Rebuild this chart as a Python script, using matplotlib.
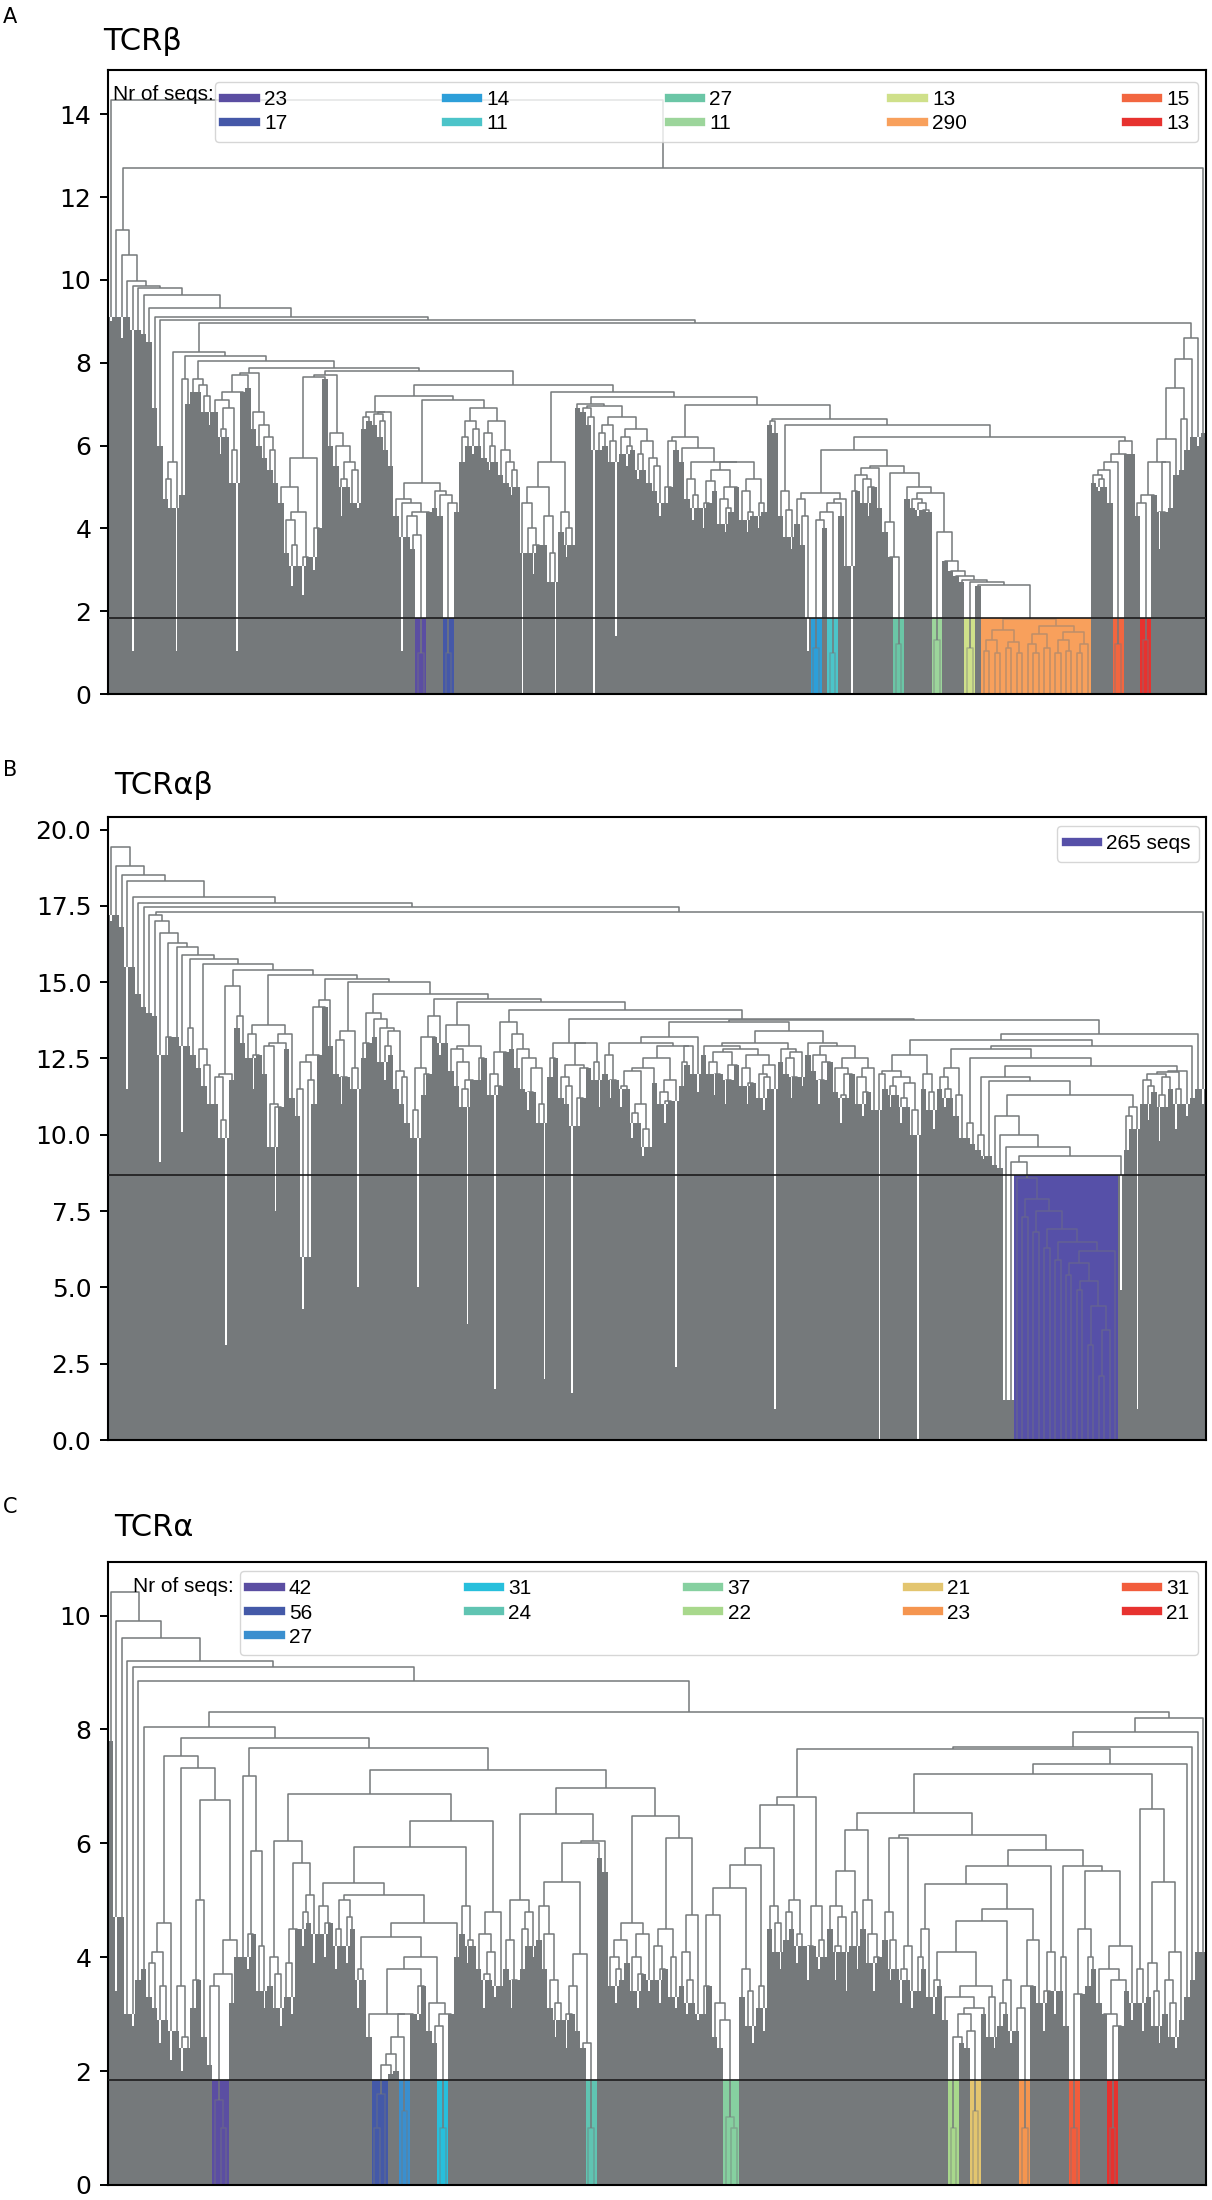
import numpy as np
import matplotlib
matplotlib.use("Agg")
import matplotlib.pyplot as plt
from matplotlib.collections import LineCollection
from matplotlib.lines import Line2D
from matplotlib.ticker import MultipleLocator
from matplotlib.colors import to_rgb

GRAY = '#75797b'

# ---------------- panel A : TCRb ----------------
# fill = height of the dense gray part of each leaf group, gaps = merge height
# between neighbouring leaf groups (dendrogram order)
fill_A = [9.0, 9.1, 8.6, 9.1, 1.04, 8.8, 8.7, 8.5, 6.9, 6.0,
          4.7, 4.5, 1.04, 4.8, 7.0, 7.3, 7.3, 6.8, 6.5, 6.8,
          5.8, 6.2, 5.1, 1.04, 7.6, 7.4, 6.4, 6.0, 5.7, 5.4,
          5.1, 4.6, 3.4, 2.6, 3.1, 2.4, 3.6, 3.0, 4.2, 7.6,
          6.0, 5.5, 4.3, 5.0, 4.6, 4.5, 6.4, 6.6, 6.5, 6.2,
          5.9, 5.5, 4.3, 1.04, 3.8, 3.5, 1.84, 1.84, 4.7, 4.5,
          4.3, 1.84, 1.84, 4.4, 5.6, 6.0, 5.8, 6.0, 5.7, 5.4,
          5.6, 5.3, 5.1, 4.8, 5.0, 0.0, 3.4, 2.9, 4.3, 3.6,
          2.7, 0.0, 3.9, 3.3, 3.6, 6.9, 6.8, 6.5, 0.0, 5.9,
          6.0, 5.6, 1.4, 5.8, 5.5, 5.9, 5.2, 5.4, 5.1, 4.9,
          4.3, 4.6, 6.0, 5.9, 5.6, 4.7, 4.2, 4.5, 4.0, 4.6,
          4.9, 4.1, 3.9, 4.4, 5.1, 4.2, 3.9, 4.3, 4.0, 4.4,
          6.5, 6.3, 4.3, 3.8, 3.5, 4.1, 3.6, 1.04, 1.84, 1.84,
          4.0, 1.84, 1.84, 4.3, 3.1, 0.0, 5.1, 4.6, 4.3, 5.4,
          4.5, 3.9, 3.5, 1.84, 1.84, 4.7, 4.5, 4.3, 4.6, 4.4,
          1.84, 1.84, 3.5, 3.1, 2.9, 2.7, 1.84, 1.84, 2.6, 1.84,
          1.84, 1.84, 1.84, 1.84, 1.84, 1.84, 1.84, 1.84, 1.84, 1.84,
          1.84, 1.84, 1.84, 1.84, 1.84, 1.84, 1.84, 1.84, 1.84, 5.1,
          4.9, 5.0, 4.6, 1.84, 1.84, 6.0, 5.8, 4.3, 1.84, 1.84,
          5.1, 3.5, 4.8, 4.5, 5.3, 5.4, 5.9, 6.2, 6.0, 6.3]
gaps_A = [14.35, 11.2, 10.6, 9.97, 9.85, 9.8, 9.64, 9.33, 9.1, 9.03,
          5.2, 5.6, 8.25, 7.6, 8.17, 7.6, 7.45, 7.2, 8.05, 7.1,
          6.4, 6.9, 5.9, 7.3, 7.7, 7.75, 6.8, 6.5, 6.2, 5.9,
          7.88, 5.0, 4.2, 3.6, 4.4, 3.3, 5.7, 4.0, 7.65, 7.7,
          6.3, 6.0, 5.2, 5.6, 5.4, 7.8, 6.7, 6.8, 6.75, 6.6,
          6.8, 7.2, 4.7, 4.6, 4.3, 3.83, 1.0, 4.4, 5.1, 4.9,
          4.8, 1.0, 4.6, 7.1, 6.2, 6.6, 6.4, 6.9, 6.3, 6.0,
          6.6, 5.9, 5.6, 5.4, 7.47, 4.6, 4.0, 3.6, 5.0, 4.3,
          3.4, 5.6, 4.4, 4.0, 7.3, 7.0, 6.9, 6.7, 6.95, 6.3,
          6.5, 6.1, 6.7, 6.2, 6.0, 6.4, 5.8, 6.1, 5.7, 5.5,
          7.18, 5.0, 6.1, 6.2, 5.95, 5.2, 4.8, 5.6, 4.6, 5.14,
          5.4, 4.7, 4.5, 5.0, 5.6, 4.9, 4.4, 5.2, 4.6, 6.98,
          6.6, 6.65, 4.9, 4.44, 6.49, 4.7, 4.3, 4.85, 1.1, 4.2,
          4.4, 1.0, 4.6, 4.7, 5.9, 4.9, 5.3, 5.2, 5.0, 5.45,
          5.5, 4.15, 3.3, 1.2, 5.34, 5.0, 4.7, 4.6, 4.44, 4.85,
          1.3, 3.9, 3.2, 2.96, 2.85, 2.76, 1.1, 2.7, 2.64, 1.05,
          1.3, 1.0, 1.55, 1.1, 1.25, 1.0, 1.8, 1.2, 1.0, 1.45,
          1.1, 1.65, 1.0, 1.3, 1.05, 1.5, 1.0, 1.2, 6.2, 5.3,
          5.2, 5.4, 5.6, 1.2, 5.8, 6.1, 8.95, 4.6, 1.3, 4.8,
          5.6, 4.4, 5.6, 6.16, 7.39, 6.65, 8.1, 8.6, 12.7]
thr_A = 1.84
counts_A = [23, 17, 14, 11, 27, 11, 13, 290, 15, 13]
colors_A = ['#5b4ea2', '#4558a8', '#2d9fd9', '#4cc4c9', '#6bc6a6',
            '#9cd59b', '#cfe08a', '#f8a05c', '#f26640', '#e7322f']

# ---------------- panel B : TCRab ----------------
P = 8.68
fill_B = [17.0, 17.2, 16.8, 11.5, 15.5, 14.6, 14.2, 14.0, 13.9, 9.1,
          12.6, 13.7, 13.2, 10.1, 12.9, 12.6, 12.2, 11.6, 11.0, 11.0,
          9.9, 3.1, 11.8, 13.5, 13.0, 12.5, 11.5, 12.8, 12.0, 9.6,
          7.5, 12.5, 12.8, 11.2, 10.6, 4.3, 6.0, 11.0, 13.6, 14.2,
          12.9, 12.0, 11.0, 12.3, 11.5, 5.0, 12.5, 13.7, 13.2, 12.4,
          11.8, 12.6, 11.5, 11.0, 10.4, 9.9, 5.0, 11.3, 12.5, 13.2,
          12.6, 13.0, 12.1, 11.6, 10.9, 3.8, 12.2, 11.8, 12.6, 11.3,
          1.66, 12.0, 13.4, 12.8, 12.2, 11.5, 10.8, 11.4, 10.4, 2.0,
          11.9, 12.5, 11.2, 11.0, 1.55, 10.3, 11.6, 12.6, 11.8, 10.9,
          12.0, 11.2, 12.4, 10.9, 11.5, 9.9, 10.4, 9.3, 9.6, 11.7,
          11.0, 10.4, 11.2, 2.4, 11.6, 12.3, 12.0, 11.4, 12.6, 12.0,
          11.3, 12.2, 11.0, 11.8, 12.5, 11.6, 11.0, 11.9, 11.2, 10.8,
          11.5, 1.0, 12.4, 12.0, 11.2, 12.2, 11.6, 12.6, 12.1, 11.0,
          11.8, 12.5, 11.4, 10.4, 11.2, 12.0, 11.0, 10.6, 11.5, 10.8,
          0.0, 11.5, 10.9, 11.3, 10.4, 10.9, 10.0, 0.0, 11.5, 10.8,
          10.2, 11.5, 10.9, 11.2, 10.6, 9.9, 9.9, 9.7, 9.5, 9.2,
          9.3, 9.0, 8.9, 1.3, 1.3, P, P, P, P, P,
          P, P, P, P, P, P, P, P, P, P,
          P, P, P, P, 4.9, 9.5, 10.2, 1.0, 11.0, 10.5,
          11.4, 9.8, 10.9, 11.5, 10.2, 11.0, 10.6, 11.2, 11.5, 11.0]
gaps_B = [19.44, 18.8, 18.5, 18.3, 17.8, 17.6, 17.45, 17.2, 17.0, 16.6,
          13.2, 16.27, 16.16, 15.9, 13.5, 15.76, 12.8, 12.3, 15.6, 11.9,
          10.5, 12.0, 14.86, 13.9, 15.4, 13.3, 12.6, 13.6, 12.9, 11.0,
          10.9, 13.0, 13.3, 15.25, 11.5, 12.4, 11.8, 12.6, 14.2, 14.4,
          15.1, 13.1, 11.9, 13.4, 12.2, 15.0, 13.0, 14.0, 13.8, 13.5,
          12.9, 13.4, 12.1, 11.9, 14.6, 10.8, 12.2, 12.0, 13.2, 13.9,
          14.45, 13.6, 12.8, 12.4, 11.5, 11.8, 12.9, 12.5, 14.35, 12.0,
          11.6, 12.7, 13.7, 13.3, 12.8, 12.5, 11.4, 12.2, 11.0, 14.1,
          12.5, 13.0, 11.9, 11.6, 12.3, 11.2, 12.2, 13.0, 12.4, 13.8,
          12.6, 11.8, 13.0, 11.6, 12.1, 10.7, 11.0, 10.2, 12.2, 12.5,
          11.4, 11.1, 11.8, 12.9, 12.4, 12.9, 13.2, 13.7, 12.9, 12.4,
          12.0, 12.7, 11.8, 12.3, 12.8, 12.2, 11.7, 12.6, 12.0, 11.9,
          12.3, 13.0, 12.8, 12.5, 11.9, 12.7, 13.4, 13.0, 12.6, 11.8,
          12.4, 12.9, 12.2, 11.3, 12.0, 12.5, 11.9, 11.4, 12.2, 13.75,
          12.0, 12.1, 11.6, 11.9, 11.2, 11.7, 10.8, 12.6, 12.0, 11.4,
          13.1, 11.9, 11.5, 12.2, 11.3, 12.8, 10.4, 12.5, 10.0, 11.9,
          11.75, 10.6, 10.0, 9.6, 9.1, 8.6, 7.3, 7.9, 6.8, 7.5,
          6.3, 6.9, 5.9, 6.5, 5.4, 5.8, 4.9, 5.2, 3.1, 4.4,
          2.1, 3.6, 6.2, 9.3, 11.3, 10.6, 10.9, 12.26, 11.8, 11.6,
          12.0, 11.3, 11.9, 12.05, 11.5, 12.1, 12.9, 13.3, 17.3]
thr_B = 8.68
counts_B = [265]
colors_B = ['#5650a8']

# ---------------- panel C : TCRa ----------------
fill_C = [7.8, 3.4, 4.7, 3.0, 2.8, 3.6, 3.8, 3.3, 3.1, 2.5,
          2.9, 2.2, 2.7, 2.0, 2.4, 3.1, 4.4, 2.6, 2.1, 1.84,
          1.84, 1.84, 3.2, 4.0, 4.0, 3.8, 5.0, 3.4, 3.1, 3.5,
          3.1, 2.8, 3.3, 3.0, 5.0, 4.2, 4.6, 3.9, 4.4, 4.0,
          4.7, 3.8, 4.2, 3.9, 4.5, 3.1, 3.6, 2.6, 1.84, 1.84,
          1.84, 1.95, 2.0, 1.84, 1.84, 3.4, 2.9, 3.8, 2.7, 2.5,
          1.84, 1.84, 4.4, 4.0, 4.4, 3.9, 4.2, 3.8, 3.1, 3.6,
          3.3, 3.5, 3.8, 3.1, 4.4, 3.8, 4.2, 4.0, 4.3, 3.8,
          3.1, 2.6, 2.9, 2.4, 3.0, 2.7, 2.4, 1.84, 1.84, 5.75,
          5.5, 3.5, 3.2, 3.6, 3.9, 3.4, 3.1, 3.8, 3.4, 3.6,
          3.2, 3.8, 3.3, 3.1, 3.5, 3.0, 3.2, 2.9, 3.0, 3.5,
          2.6, 2.4, 1.84, 1.84, 1.84, 3.3, 2.8, 2.5, 3.1, 2.7,
          4.5, 4.1, 3.8, 4.3, 4.5, 3.9, 4.2, 3.6, 4.4, 3.8,
          4.0, 4.5, 3.6, 4.1, 3.4, 4.2, 3.8, 4.5, 3.9, 3.4,
          4.0, 4.3, 3.6, 3.8, 3.2, 3.6, 3.1, 3.4, 3.8, 3.3,
          3.0, 3.5, 2.9, 1.84, 1.84, 2.5, 2.4, 1.84, 1.84, 3.0,
          2.6, 2.4, 2.8, 3.0, 2.5, 2.7, 1.84, 1.84, 3.8, 3.2,
          2.7, 3.5, 3.0, 3.4, 2.8, 1.84, 1.84, 3.8, 3.5, 3.8,
          3.2, 3.5, 1.84, 1.84, 3.1, 3.4, 2.9, 3.2, 2.7, 3.3,
          2.8, 2.5, 3.0, 2.6, 2.4, 2.9, 3.3, 3.6, 4.1, 4.1]
gaps_C = [10.42, 9.9, 9.6, 9.2, 9.1, 8.85, 8.04, 3.9, 4.1, 3.5,
          4.6, 7.54, 3.5, 2.6, 7.33, 3.6, 5.0, 6.77, 3.49, 1.5,
          1.0, 3.7, 4.3, 7.85, 7.18, 4.4, 5.87, 4.2, 7.68, 4.0,
          3.7, 6.04, 3.9, 4.5, 5.66, 4.8, 5.1, 6.86, 4.9, 4.6,
          5.3, 4.5, 5.0, 4.7, 5.09, 3.8, 4.35, 3.0, 1.0, 1.6,
          2.1, 2.3, 2.6, 1.3, 3.0, 3.8, 3.5, 4.0, 3.2, 2.8,
          1.0, 3.0, 4.6, 5.93, 4.9, 4.3, 6.39, 4.4, 3.7, 4.1,
          4.8, 7.29, 4.3, 3.6, 5.0, 4.5, 4.8, 6.52, 4.9, 4.4,
          3.6, 3.2, 5.32, 3.0, 3.5, 4.05, 2.5, 1.0, 6.0, 6.04,
          6.97, 4.0, 3.8, 4.3, 4.6, 4.0, 3.7, 4.4, 6.48, 4.2,
          3.8, 4.5, 4.0, 6.09, 4.1, 3.6, 4.75, 8.31, 3.5, 4.75,
          3.2, 2.9, 1.2, 1.0, 5.21, 3.8, 3.4, 5.62, 3.5, 5.91,
          4.9, 4.6, 6.67, 4.8, 5.0, 4.4, 6.82, 4.2, 4.9, 4.3,
          7.65, 4.9, 4.2, 4.7, 5.52, 4.8, 6.24, 5.0, 4.4, 4.0,
          6.54, 4.8, 4.3, 6.09, 3.8, 4.2, 6.14, 4.0, 4.5, 5.28,
          3.6, 4.1, 3.3, 1.0, 2.6, 3.0, 2.7, 1.3, 3.1, 3.5,
          3.3, 4.64, 3.2, 3.6, 4.85, 3.1, 1.0, 3.5, 4.3, 5.6,
          3.4, 4.1, 5.88, 4.0, 5.6, 1.0, 3.35, 4.5, 4.0, 5.52,
          3.8, 3.0, 1.0, 2.8, 3.6, 4.2, 7.22, 3.8, 6.6, 3.9,
          3.4, 5.32, 3.6, 3.2, 4.1, 7.4, 7.7, 7.95, 8.2]
thr_C = 1.84
counts_C = [42, 56, 27, 31, 24, 37, 22, 21, 23, 31, 21]
colors_C = ['#5b4ea2', '#4459a8', '#3a8fcf', '#27bfdc', '#60c4b2', '#86d0a0',
            '#a8d88c', '#e3c56f', '#f5954f', '#f25d3c', '#e7322f']


def tree_links(gaps):
    # ordered dendrogram rebuilt from the neighbour merge heights
    links = []

    def walk(lo, hi):
        if lo == hi:
            return float(lo), 0.0
        k = lo + int(np.argmax(gaps[lo:hi]))
        xl, yl = walk(lo, k)
        xr, yr = walk(k + 1, hi)
        links.append((xl, yl, xr, yr, gaps[k], lo))
        return (xl + xr) / 2.0, gaps[k]

    walk(0, len(gaps))
    return links


def clusters_below(gaps, thr):
    out, start = [], 0
    for i, g in enumerate(gaps):
        if g >= thr:
            if i > start:
                out.append((start, i))
            start = i + 1
    if len(gaps) > start:
        out.append((start, len(gaps)))
    return out


def mix(c, w=0.55):
    return tuple(np.array(to_rgb(c)) * w + np.array(to_rgb(GRAY)) * (1 - w))


def draw_panel(ax, fill, gaps, thr, colors):
    gaps = np.asarray(gaps, float)
    fill = np.asarray(fill, float)
    n = len(fill)
    assert len(gaps) == n - 1
    first = np.minimum(np.r_[np.inf, gaps], np.r_[gaps, np.inf])
    heights = np.minimum(fill, first)
    bar_cols = [GRAY] * n
    member = {}
    for c, (lo, hi) in enumerate(clusters_below(gaps, thr)):
        for i in range(lo, hi + 1):
            member[i] = c
            heights[i] = thr
            bar_cols[i] = colors[c]
    # a low leaf between two taller neighbours shows as a thin white crack
    nb = np.minimum(np.r_[np.inf, heights[:-1]], np.r_[heights[1:], np.inf])
    tops = heights.copy()
    for i in range(n):
        if i not in member:
            tops[i] = min(first[i], max(heights[i], nb[i]))
    ax.bar(np.arange(n), tops, width=1.0, color=bar_cols, linewidth=0, zorder=1)
    crack = tops - heights
    sel = crack > 0.05
    ax.bar(np.arange(n)[sel], crack[sel], bottom=heights[sel], width=0.3,
           color='white', linewidth=0, zorder=2.5)
    segs, cols = [], []
    for xl, yl, xr, yr, h, lo in tree_links(gaps):
        segs.append([(xl, yl), (xl, h), (xr, h), (xr, yr)])
        if h < thr and lo in member:
            cols.append(mix(colors[member[lo]]))
        else:
            cols.append(GRAY)
    ax.add_collection(LineCollection(segs, colors=cols, linewidths=1.1, zorder=2))
    ax.axhline(thr, color='#1b1b1b', lw=1.2, zorder=3)
    ax.set_xlim(-0.5, n - 0.5)
    ax.set_ylim(0, gaps.max() * 1.05)
    ax.set_xticks([])
    ax.tick_params(axis='y', labelsize=18, length=6, width=1.4, pad=6)
    for s in ax.spines.values():
        s.set_linewidth(1.5)
        s.set_color('black')


LEG_FONT = {'family': 'Liberation Sans', 'size': 15}

fig = plt.figure(figsize=(12.12, 22), dpi=100)
L, W = 108 / 1212, 1098 / 1212
axA = fig.add_axes([L, 1 - 694 / 2200, W, 624 / 2200])
axB = fig.add_axes([L, 1 - 1440 / 2200, W, 623 / 2200])
axC = fig.add_axes([L, 1 - 2185 / 2200, W, 623 / 2200])

draw_panel(axA, fill_A, gaps_A, thr_A, colors_A)
draw_panel(axB, fill_B, gaps_B, thr_B, colors_B)
draw_panel(axC, fill_C, gaps_C, thr_C, colors_C)
axA.yaxis.set_major_locator(MultipleLocator(2))
axB.yaxis.set_major_locator(MultipleLocator(2.5))
axC.yaxis.set_major_locator(MultipleLocator(2))


def seq_legend(ax, counts, colors, x0, top, xtext):
    handles = [Line2D([], [], color=c, lw=6) for c in colors]
    ax.legend(handles, [str(v) for v in counts], ncol=5, mode='expand',
              loc='upper left', bbox_to_anchor=(x0, 0, 0.9927 - x0, top),
              borderaxespad=0, prop=LEG_FONT, handlelength=1.55,
              handletextpad=0.4, labelspacing=0.25, borderpad=0.4,
              columnspacing=1.0)
    ax.text(xtext, 0.961, 'Nr of seqs:', transform=ax.transAxes,
            fontdict=LEG_FONT, va='center', ha='left', zorder=5)


seq_legend(axA, counts_A, colors_A, 0.0975, 0.981, 0.0046)
seq_legend(axC, counts_C, colors_C, 0.1202, 0.9856, 0.0228)
axB.legend([Line2D([], [], color=colors_B[0], lw=6)], [f'{counts_B[0]} seqs'],
           loc='upper right', bbox_to_anchor=(0.9936, 0.9856), borderaxespad=0,
           prop=LEG_FONT, handlelength=1.55, handletextpad=0.4, borderpad=0.4)

# panel letters and titles
for letter, y_l, title, x_t, y_t in [('A', 17, 'TCRβ', 103, 41),
                                     ('B', 770, 'TCRαβ', 114, 785),
                                     ('C', 1507, 'TCRα', 114, 1527)]:
    fig.text(3 / 1212, 1 - y_l / 2200, letter, fontsize=15, va='center', ha='left')
    fig.text(x_t / 1212, 1 - y_t / 2200, title, fontsize=22, va='center', ha='left')

fig.savefig('out.png', dpi=100)
